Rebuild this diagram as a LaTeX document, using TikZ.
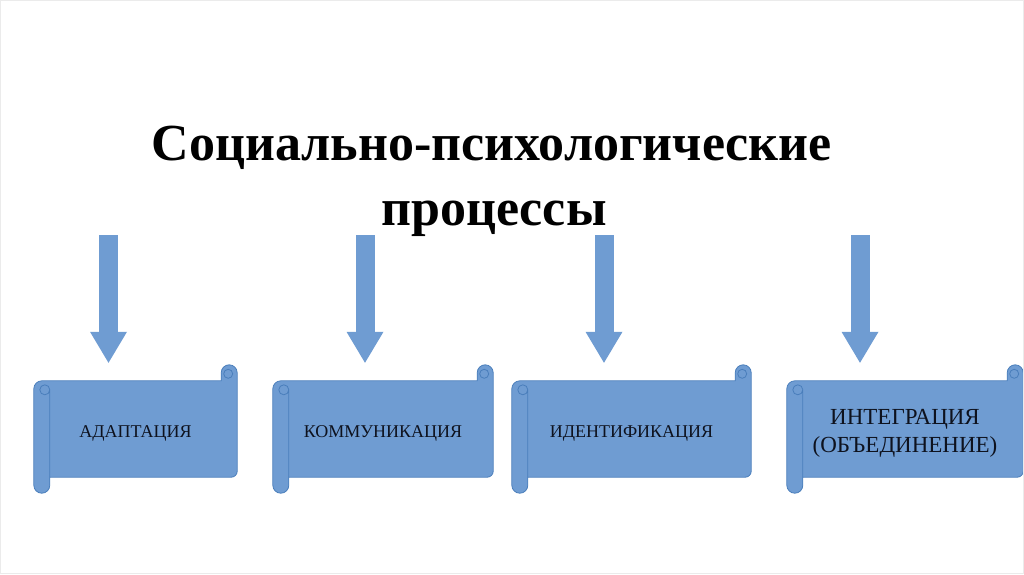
\documentclass[tikz,border=0pt]{standalone}
\usepackage{fontspec}
\setmainfont{Liberation Serif}
\usepackage{tikz}
\usetikzlibrary{positioning, arrows.meta, calc}

\definecolor{scrollfill}{RGB}{111,156,210}
\definecolor{scrolledge}{RGB}{74,126,187}
\definecolor{labeltext}{RGB}{14,18,30}

\pgfdeclarelayer{background}
\pgfsetlayers{background,main}

% scroll outline round a named node
\newcommand{\scrollshape}[1]{%
  \begin{pgfonlayer}{background}
  \draw [scrolledge, fill=scrollfill, line width=0.8pt]
    let \p1 = (#1.north west), \p2 = (#1.south east) in
    (\x1, \y1-8pt) arc[start angle=180, end angle=90, radius=8pt]
    -- (\x2-16pt, \y1) -- (\x2-16pt, \y1+8pt)
    arc[start angle=180, end angle=0, radius=8pt]
    -- (\x2, \y2+6pt) arc[start angle=0, end angle=-90, radius=6pt]
    -- (\x1+16pt, \y2) -- (\x1+16pt, \y2-8pt)
    arc[start angle=0, end angle=-180, radius=8pt] -- cycle;
  \draw [scrolledge, line width=0.8pt]
    let \p1 = (#1.north west), \p2 = (#1.south east) in
    (\x1+16pt, \y1-9pt) -- (\x1+16pt, \y2)
    (\x1+11pt, \y1-9pt) circle[radius=5pt]
    (\x2-9pt, \y1+7pt) circle[radius=4.5pt];
  \end{pgfonlayer}
}

\tikzset{
  scrollbox/.style={rectangle, minimum height=96pt, inner sep=0pt, text=labeltext,
    text height=16pt, text depth=0pt, font=\fontsize{18}{22}\selectfont},
  downarrow/.style={scrollfill, line width=19pt,
    -{Triangle[width=37pt, length=31pt, line width=0pt]}, shorten >=18pt},
  titletext/.style={anchor=base, font=\fontsize{52}{65}\selectfont\bfseries},
}

\begin{document}
\begin{tikzpicture}[x=1pt, y=-1pt]
\useasboundingbox (0,0) rectangle (1024,574);
\draw [black!8, line width=1pt] (0.5,0.5) rectangle (1023.5,573.5);

\node [titletext] (title) at (492,160) {Социально-психологические};
\node [titletext] (title2) at (494,225) {процессы};

\node [scrollbox, minimum width=203pt] (adapt) at (135.5,429) {АДАПТАЦИЯ};
\node [scrollbox, minimum width=220pt] (comm) at (383,429) {КОММУНИКАЦИЯ};
\node [scrollbox, minimum width=239pt] (ident) at (631.5,429) {ИДЕНТИФИКАЦИЯ};
\node [scrollbox, minimum width=236pt, align=center, text height=, text depth=0pt,
  font=\fontsize{23}{28}\selectfont] (integr) at (905,429)
  {\rule{0pt}{19pt}ИНТЕГРАЦИЯ\\(ОБЪЕДИНЕНИЕ)};

\scrollshape{adapt}
\scrollshape{comm}
\scrollshape{ident}
\scrollshape{integr}

\coordinate (a1) at (108.5,235);
\coordinate (a2) at (365,235);
\coordinate (a3) at (604,235);
\coordinate (a4) at (860,235);

\draw [downarrow] (a1) -- (a1 |- adapt.north);
\draw [downarrow] (a2) -- (a2 |- comm.north);
\draw [downarrow] (a3) -- (a3 |- ident.north);
\draw [downarrow] (a4) -- (a4 |- integr.north);

\end{tikzpicture}
\end{document}
